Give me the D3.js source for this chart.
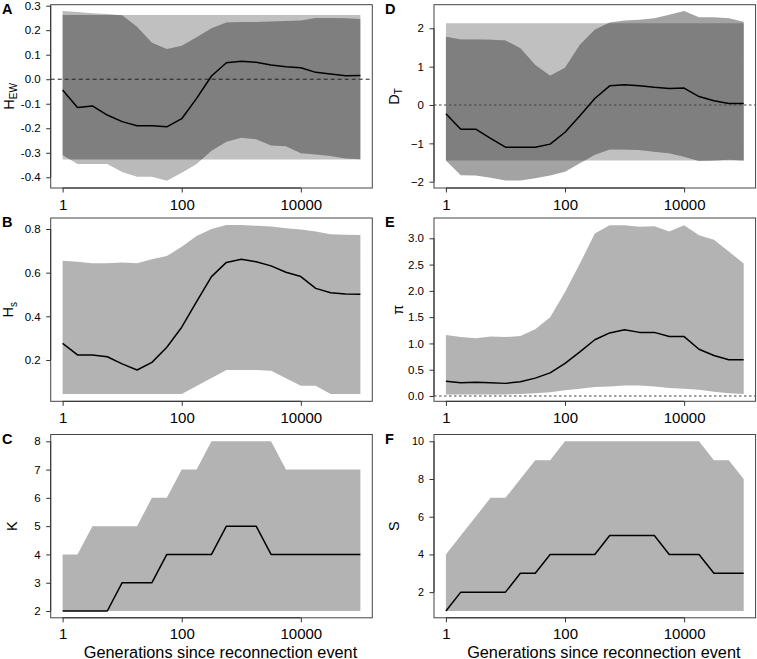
<!DOCTYPE html>
<html><head><meta charset="utf-8">
<script src="https://cdn.jsdelivr.net/npm/d3@7"></script>
<style>
body{margin:0;background:#fff}
svg{display:block}
text{font-family:"Liberation Sans",Arial,Helvetica,sans-serif;fill:#000}
</style>
</head><body>
<svg id="c" width="757" height="659"></svg>
<script>
// ---- data ----
const gens = [1, 1.778, 3.162, 5.623, 10, 17.78, 31.62, 56.23, 100, 177.8, 316.2, 562.3, 1000, 1778, 3162, 5623, 10000, 17780, 31620, 56230, 100000];
const xTicks = [1, 100, 10000];
const xTickLabels = ["1", "100", "10000"];

const hewMean = [-0.044,-0.115,-0.109,-0.146,-0.173,-0.190,-0.190,-0.194,-0.161,-0.078,0.013,0.067,0.073,0.069,0.058,0.051,0.047,0.028,0.021,0.014,0.015];
const hewHigh = [0.278,0.274,0.269,0.266,0.261,0.214,0.149,0.123,0.137,0.171,0.208,0.231,0.233,0.233,0.235,0.238,0.240,0.250,0.250,0.249,0.246];
const hewLow  = [-0.309,-0.346,-0.346,-0.346,-0.378,-0.398,-0.398,-0.414,-0.382,-0.346,-0.292,-0.255,-0.239,-0.245,-0.270,-0.273,-0.302,-0.307,-0.313,-0.323,-0.326];
const hewNull = [-0.327, 0.262];
const hewTicks = [-0.4,-0.3,-0.2,-0.1,0,0.1,0.2,0.3];
const hewTickLabels = ["-0.4","-0.3","-0.2","-0.1","0.0","0.1","0.2","0.3"];

const dtMean = [-0.23,-0.63,-0.63,-0.87,-1.10,-1.10,-1.10,-1.02,-0.71,-0.28,0.17,0.50,0.53,0.50,0.46,0.43,0.44,0.22,0.11,0.04,0.04];
const dtHigh = [1.78,1.71,1.71,1.70,1.68,1.48,1.04,0.76,0.97,1.57,1.96,2.15,2.20,2.22,2.26,2.35,2.45,2.29,2.29,2.26,2.17];
const dtLow  = [-1.45,-1.83,-1.84,-1.90,-1.97,-1.97,-1.91,-1.84,-1.74,-1.52,-1.30,-1.16,-1.16,-1.17,-1.22,-1.26,-1.35,-1.46,-1.45,-1.43,-1.45];
const dtNull = [-1.45, 2.13];
const dtTicks = [-2,-1,0,1,2];
const dtTickLabels = ["\u22122","\u22121","0","1","2"];

const hsMean = [0.276,0.223,0.223,0.215,0.182,0.154,0.189,0.258,0.350,0.467,0.582,0.647,0.661,0.650,0.631,0.602,0.582,0.528,0.508,0.502,0.501];
const hsHigh = [0.655,0.650,0.643,0.643,0.646,0.643,0.661,0.676,0.719,0.768,0.800,0.818,0.818,0.815,0.811,0.803,0.798,0.788,0.776,0.774,0.773];
const hsLow  = [0.044,0.044,0.044,0.044,0.044,0.044,0.044,0.044,0.044,0.081,0.118,0.154,0.154,0.154,0.151,0.116,0.082,0.082,0.044,0.044,0.044];
const hsTicks = [0.2,0.4,0.6,0.8];
const hsTickLabels = ["0.2","0.4","0.6","0.8"];

const piMean = [0.28,0.25,0.26,0.25,0.24,0.27,0.34,0.44,0.62,0.84,1.07,1.20,1.26,1.21,1.21,1.13,1.13,0.89,0.77,0.69,0.69];
const piHigh = [1.16,1.12,1.10,1.13,1.12,1.14,1.27,1.50,1.98,2.52,3.09,3.25,3.25,3.22,3.23,3.13,3.25,3.06,2.97,2.75,2.52];
const piLow  = [0.03,0.03,0.03,0.03,0.03,0.04,0.05,0.07,0.11,0.14,0.17,0.18,0.20,0.20,0.18,0.15,0.14,0.12,0.08,0.05,0.04];
const piTicks = [0,0.5,1,1.5,2,2.5,3];
const piTickLabels = ["0.0","0.5","1.0","1.5","2.0","2.5","3.0"];

const kMean = [2,2,2,2,3,3,3,4,4,4,4,5,5,5,4,4,4,4,4,4,4];
const kHigh = [4,4,5,5,5,5,6,6,7,7,8,8,8,8,8,7,7,7,7,7,7];
const kLow  = [2,2,2,2,2,2,2,2,2,2,2,2,2,2,2,2,2,2,2,2,2];
const kTicks = [2,3,4,5,6,7,8];
const kTickLabels = ["2","3","4","5","6","7","8"];

const sMean = [1,2,2,2,2,3,3,4,4,4,4,5,5,5,5,4,4,4,3,3,3];
const sHigh = [4,5,6,7,7,8,9,9,10,10,10,10,10,10,10,10,10,10,9,9,8];
const sLow  = [1,1,1,1,1,1,1,1,1,1,1,1,1,1,1,1,1,1,1,1,1];
const sTicks = [2,4,6,8,10];
const sTickLabels = ["2","4","6","8","10"];

// ---- layout ----
const colLeft = [50.7, 434];
const plotW = 321.6;
const rowTop = [4.7, 218, 434.5];
const plotH = 183.3;

const panels = [
  {letter:"A", col:0, row:0, mean:hewMean, lo:hewLow, hi:hewHigh, nul:hewNull, dom:[-0.4437,0.304], ticks:hewTicks, labels:hewTickLabels,
   ylab:[["H",""],["EW","sub"]], ylabX:13.5, zero:"4,3", zeroCol:"#222", bandOnly:"#bababa"},
  {letter:"B", col:0, row:1, mean:hsMean, lo:hsLow, hi:hsHigh, dom:[0.0107,0.8504], ticks:hsTicks, labels:hsTickLabels,
   ylab:[["H",""],["s","sub"]], ylabX:13},
  {letter:"C", col:0, row:2, mean:kMean, lo:kLow, hi:kHigh, dom:[1.76,8.24], ticks:kTicks, labels:kTickLabels,
   ylab:[["K",""]], ylabX:16.7, xlab:true},
  {letter:"D", col:1, row:0, mean:dtMean, lo:dtLow, hi:dtHigh, nul:dtNull, dom:[-2.164,2.615], ticks:dtTicks, labels:dtTickLabels,
   ylab:[["D",""],["T","sub"]], ylabX:398.5, zero:"2.5,2.5", zeroCol:"#444", bandOnly:"#a3a3a3"},
  {letter:"E", col:1, row:1, mean:piMean, lo:piLow, hi:piHigh, dom:[-0.101,3.386], ticks:piTicks, labels:piTickLabels,
   ylab:[["\u03c0",""]], ylabX:402.5, zero:"2.5,2.5", zeroCol:"#444"},
  {letter:"F", col:1, row:2, mean:sMean, lo:sLow, hi:sHigh, dom:[0.64,10.36], ticks:sTicks, labels:sTickLabels,
   ylab:[["S",""]], ylabX:398.7, xlab:true, tickFont:10.8}
];

const svg = d3.select("#c");
const defs = svg.append("defs");

panels.forEach((p, pi) => {
  const x0 = colLeft[p.col], y0 = rowTop[p.row];
  const x = d3.scaleLog().domain([Math.pow(10,-0.2), Math.pow(10,5.2)]).range([x0, x0 + plotW]);
  const y = d3.scaleLinear().domain(p.dom).range([y0 + plotH, y0]);
  const g = svg.append("g");
  const idx = d3.range(gens.length);

  const area = (lo, hi) => d3.area().x(i => x(gens[i])).y0(i => y(lo(i))).y1(i => y(hi(i)));

  if (p.nul) {
    const cid = "clip" + pi;
    defs.append("clipPath").attr("id", cid).append("rect")
      .attr("x", x(gens[0])).attr("width", x(gens[gens.length-1]) - x(gens[0]))
      .attr("y", y(p.nul[1])).attr("height", y(p.nul[0]) - y(p.nul[1]));
    g.append("path").attr("d", area(() => p.nul[0], () => p.nul[1])(idx)).attr("fill", "#c0c0c0");
    g.append("path").attr("d", area(i => p.lo[i], i => p.hi[i])(idx)).attr("fill", p.bandOnly);
    g.append("path").attr("d", area(i => p.lo[i], i => p.hi[i])(idx)).attr("fill", "#7f7f7f").attr("clip-path", `url(#${cid})`);
  } else {
    g.append("path").attr("d", area(i => p.lo[i], i => p.hi[i])(idx)).attr("fill", "#b3b3b3");
  }

  if (p.zero) {
    g.append("line").attr("x1", x0).attr("x2", x0 + plotW).attr("y1", y(0)).attr("y2", y(0))
      .attr("stroke", p.zeroCol).attr("stroke-width", 1).attr("stroke-dasharray", p.zero);
  }

  g.append("path").attr("d", d3.line().x(i => x(gens[i])).y(i => y(p.mean[i]))(idx))
    .attr("fill", "none").attr("stroke", "#000").attr("stroke-width", 1.5).attr("stroke-linejoin", "round");

  // box
  g.append("rect").attr("x", x0).attr("y", y0).attr("width", plotW).attr("height", plotH)
    .attr("fill", "none").attr("stroke", "#444").attr("stroke-width", 1);

  // y axis
  const ya = g.append("g").attr("transform", `translate(${x0},0)`)
    .call(d3.axisLeft(y).tickValues(p.ticks).tickFormat((d, i) => p.labels[i]).tickSize(4.5).tickPadding(5.5));
  ya.select(".domain").remove();
  ya.append("line").attr("x1", 0).attr("x2", 0).attr("y1", y(p.ticks[0])).attr("y2", y(p.ticks[p.ticks.length-1]))
    .attr("stroke", "#333");
  ya.selectAll(".tick line").attr("stroke", "#333");
  ya.selectAll(".tick text").attr("font-size", p.tickFont || 11.5).attr("fill", "#000")
    .attr("font-family", '"Liberation Sans",Arial,sans-serif');

  // x axis
  const xa = g.append("g").attr("transform", `translate(0,${y0 + plotH})`)
    .call(d3.axisBottom(x).tickValues(xTicks).tickFormat((d, i) => xTickLabels[i]).tickSize(4.5));
  xa.select(".domain").remove();
  xa.append("line").attr("y1", 0).attr("y2", 0).attr("x1", x(xTicks[0])).attr("x2", x(xTicks[xTicks.length-1]))
    .attr("stroke", "#333");
  xa.selectAll(".tick line").attr("stroke", "#333");
  xa.selectAll(".tick text").attr("font-size", 15).attr("fill", "#000").attr("dy", null).attr("y", 21.5)
    .attr("font-family", '"Liberation Sans",Arial,sans-serif');

  // y label
  const cy = y0 + plotH / 2;
  const yl = g.append("text").attr("transform", `translate(${p.ylabX},${cy}) rotate(-90)`)
    .attr("text-anchor", "middle").attr("font-size", 14.5);
  p.ylab.forEach(([t, kind]) => {
    const ts = yl.append("tspan").text(t);
    if (kind === "sub") ts.attr("font-size", 10).attr("dy", 3.5);
  });

  // panel letter
  g.append("text").attr("x", p.col === 0 ? 2 : 385).attr("y", y0 + 9)
    .attr("font-weight", "bold").attr("font-size", 14.5).text(p.letter);

  if (p.xlab) {
    g.append("text").attr("x", x0 + plotW / 2 + 9).attr("y", 657.5).attr("text-anchor", "middle")
      .attr("font-size", 16.3).text("Generations since reconnection event");
  }
});
</script>
</body></html>
